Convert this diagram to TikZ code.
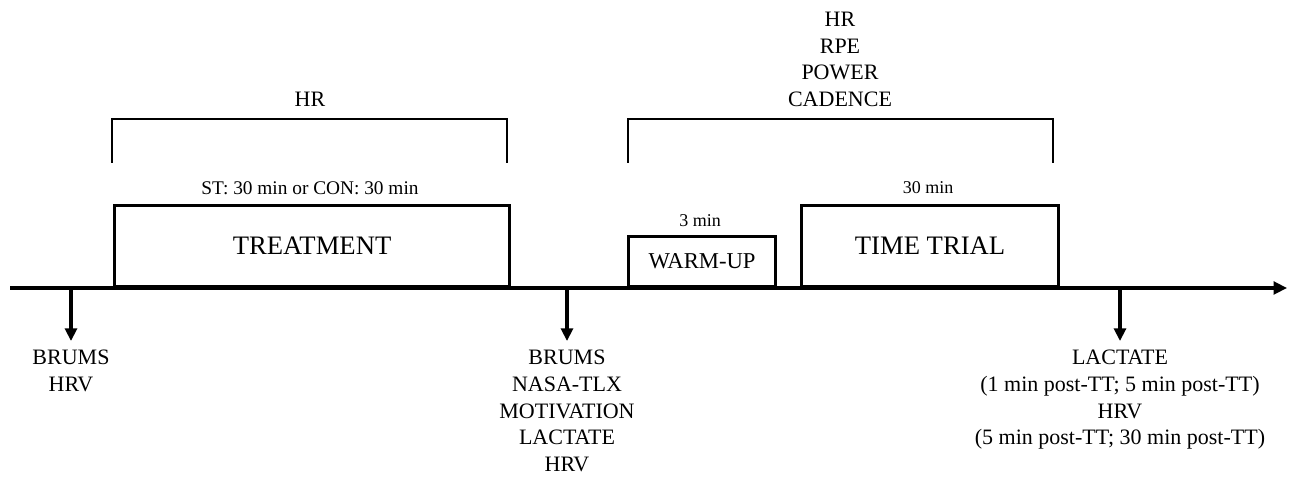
\documentclass[tikz,border=0pt]{standalone}
\usepackage{fontspec}
\setmainfont{Liberation Serif}
\usetikzlibrary{arrows.meta}
\tikzset{
  ln/.style={line width=2.1pt, line cap=butt},
  boxn/.style={draw, line width=2.3pt, anchor=south west, inner sep=0pt},
  bigtxt/.style={font=\fontsize{20}{24}\selectfont},
  midtxt/.style={font=\fontsize{16.5}{20}\selectfont, align=center, inner sep=0pt},
  smalltxt/.style={font=\fontsize{13.5}{16}\selectfont, inner sep=0pt},
  downarr/.style={line width=2.3pt, -{Triangle[width=9pt,length=9.5pt]}},
}
\begin{document}
\begin{tikzpicture}[x=0.75pt,y=-0.75pt]
\useasboundingbox (0,0) rectangle (1290,484);
% timeline
\coordinate (t0) at (10,288);
\coordinate (t1) at (1287,288);
\draw[line width=2.3pt, -{Triangle[width=9.5pt,length=10pt]}] (t0) -- (t1);
% boxes
\node[boxn, bigtxt, minimum width=296.25pt, minimum height=60.75pt] (treat) at (113,288) {TREATMENT};
\node[boxn, font=\fontsize{17}{20}\selectfont, minimum width=110.25pt, minimum height=37.5pt] (warm) at (627,288) {WARM-UP};
\node[boxn, bigtxt, minimum width=192.75pt, minimum height=60.75pt] (tt) at (800,288) {TIME TRIAL};
% small labels
\node[smalltxt, font=\fontsize{14.5}{17}\selectfont] (stlab) at (310,188) {ST: 30 min or CON: 30 min};
\node[smalltxt] (wlab) at (700,221) {3 min};
\node[smalltxt] (ttlab) at (928,188) {30 min};
% brackets
\coordinate (b1a) at (112,163); \coordinate (b1b) at (112,119);
\coordinate (b1c) at (507,119); \coordinate (b1d) at (507,163);
\draw[ln, line join=miter] (b1a) -- (b1b) -- (b1c) -- (b1d);
\coordinate (b2a) at (628,163); \coordinate (b2b) at (628,119);
\coordinate (b2c) at (1053,119); \coordinate (b2d) at (1053,163);
\draw[ln, line join=miter] (b2a) -- (b2b) -- (b2c) -- (b2d);
\node[midtxt, anchor=south] (hr1) at (310,107) {HR};
\node[midtxt, anchor=south] (hr2) at (840,107) {HR\\RPE\\POWER\\CADENCE};
% down arrows
\coordinate (a1) at (71,288); \coordinate (a1e) at (71,341);
\coordinate (a2) at (567,288); \coordinate (a2e) at (567,341);
\coordinate (a3) at (1120,288); \coordinate (a3e) at (1120,341);
\draw[downarr] (a1) -- (a1e);
\draw[downarr] (a2) -- (a2e);
\draw[downarr] (a3) -- (a3e);
\node[midtxt, anchor=north] (l1) at (71,350) {BRUMS\\HRV};
\node[midtxt, anchor=north] (l2) at (567,350) {BRUMS\\NASA-TLX\\MOTIVATION\\LACTATE\\HRV};
\node[midtxt, anchor=north] (l3) at (1120,350) {LACTATE\\(1 min post-TT; 5 min post-TT)\\HRV\\(5 min post-TT; 30 min post-TT)};
\end{tikzpicture}
\end{document}
